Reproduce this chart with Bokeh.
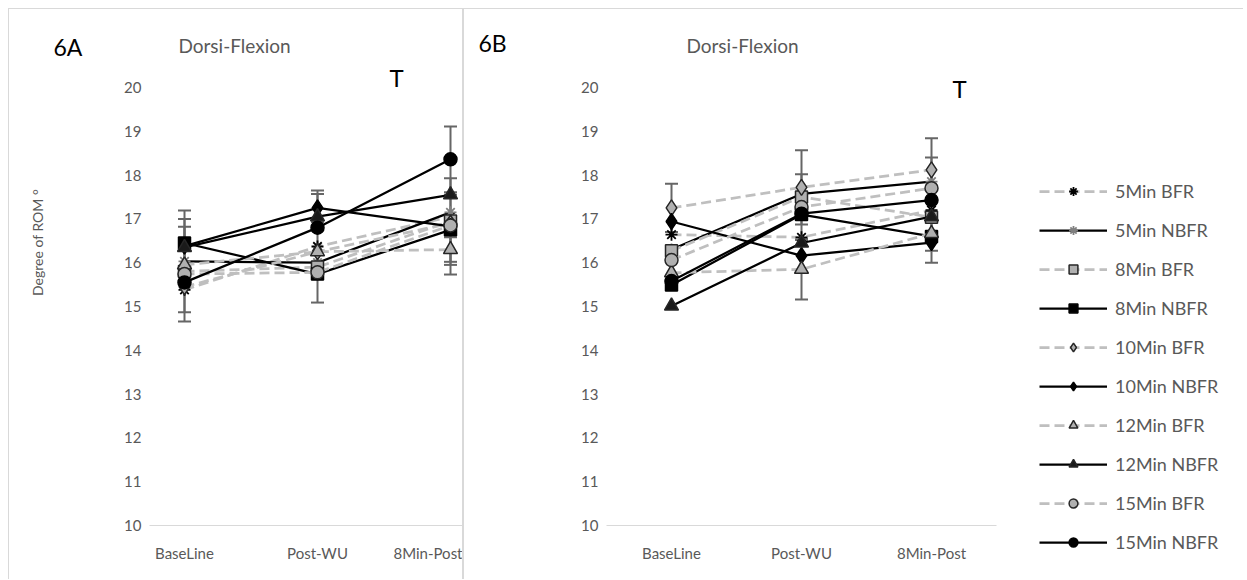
import math
from bokeh.plotting import figure
from bokeh.layouts import row, column
from bokeh.models import (Range1d, FixedTicker, Label, Legend, LegendItem,
                          Whisker, ColumnDataSource, TeeHead, Spacer)
from bokeh.embed import file_html
from bokeh.resources import INLINE

# ---------------- data ----------------
categories = ["BaseLine", "Post-WU", "8Min-Post"]
series_names = ["5Min BFR", "5Min NBFR", "8Min BFR", "8Min NBFR", "10Min BFR",
                "10Min NBFR", "12Min BFR", "12Min NBFR", "15Min BFR", "15Min NBFR"]
y_ticks = [10, 11, 12, 13, 14, 15, 16, 17, 18, 19, 20]

# Panel 6A (left)
a_5_bfr = [15.38, 16.37, 17.05]
a_5_nbfr = [16.03, 16.00, 17.15]
a_8_bfr = [15.80, 15.90, 16.95]
a_8_nbfr = [16.45, 15.74, 16.75]
a_10_bfr = [15.45, 16.25, 16.90]
a_10_nbfr = [16.38, 17.25, 16.83]
a_12_bfr = [15.95, 16.25, 16.30]
a_12_nbfr = [16.35, 17.05, 17.55]
a_15_bfr = [15.74, 15.78, 16.85]
a_15_nbfr = [15.55, 16.80, 18.36]

# Panel 6A error bars (0 = none shown)
a_err_5_bfr = [0, 1.28, 0]
a_err_5_nbfr = [1.16, 0, 0]
a_err_8_nbfr = [0, 0, 0.80]
a_err_10_nbfr = [0.62, 0.32, 1.10]
a_err_12_bfr = [0, 0, 0.28]
a_err_15_bfr = [1.08, 0, 0]
a_err_15_nbfr = [0, 0, 0.75]

# Panel 6B (right)
b_5_bfr = [16.64, 16.58, 17.20]
b_5_nbfr = [16.30, 17.57, 17.85]
b_8_bfr = [16.27, 17.50, 17.04]
b_8_nbfr = [15.49, 17.10, 16.60]
b_10_bfr = [17.25, 17.72, 18.12]
b_10_nbfr = [16.94, 16.16, 16.46]
b_12_bfr = [15.77, 15.85, 16.67]
b_12_nbfr = [15.01, 16.45, 17.05]
b_15_bfr = [16.06, 17.27, 17.70]
b_15_nbfr = [15.58, 17.12, 17.43]

# Panel 6B error bars
b_err_5_bfr = [0, 0, 1.20]
b_err_8_nbfr = [0, 0, 0.33]
b_err_10_bfr = [0.55, 0.85, 0.72]
b_err_12_bfr = [0, 0.69, 0]
b_err_15_bfr = [0, 0.75, 0]

panel_a = dict(zip(series_names, [a_5_bfr, a_5_nbfr, a_8_bfr, a_8_nbfr, a_10_bfr,
                                  a_10_nbfr, a_12_bfr, a_12_nbfr, a_15_bfr, a_15_nbfr]))
panel_b = dict(zip(series_names, [b_5_bfr, b_5_nbfr, b_8_bfr, b_8_nbfr, b_10_bfr,
                                  b_10_nbfr, b_12_bfr, b_12_nbfr, b_15_bfr, b_15_nbfr]))
err_a = {"5Min BFR": a_err_5_bfr, "5Min NBFR": a_err_5_nbfr, "8Min NBFR": a_err_8_nbfr,
         "10Min NBFR": a_err_10_nbfr, "12Min BFR": a_err_12_bfr,
         "15Min BFR": a_err_15_bfr, "15Min NBFR": a_err_15_nbfr}
err_b = {"5Min BFR": b_err_5_bfr, "8Min NBFR": b_err_8_nbfr, "10Min BFR": b_err_10_bfr,
         "12Min BFR": b_err_12_bfr, "15Min BFR": b_err_15_bfr}

# ---------------- styles ----------------
FONT = "Lato"
GRAY_TXT = "#595959"
BORDER = "1px solid #d9d9d9"
BFR_LINE = "#bfbfbf"
MFILL = "#b0b0b0"
styles = {
    "5Min BFR":   dict(marker="asterisk", fill="black", mline="black", bfr=True, size=12),
    "5Min NBFR":  dict(marker="asterisk", fill="#808080", mline="#808080", bfr=False, size=12),
    "8Min BFR":   dict(marker="square", fill=MFILL, mline="#262626", bfr=True, size=12),
    "8Min NBFR":  dict(marker="square", fill="black", mline="black", bfr=False, size=12),
    "10Min BFR":  dict(marker="diamond", fill=MFILL, mline="#262626", bfr=True, size=16),
    "10Min NBFR": dict(marker="diamond", fill="black", mline="black", bfr=False, size=16),
    "12Min BFR":  dict(marker="triangle", fill=MFILL, mline="#262626", bfr=True, size=14),
    "12Min NBFR": dict(marker="triangle", fill="#1a1a1a", mline="#262626", bfr=False, size=14),
    "15Min BFR":  dict(marker="circle", fill=MFILL, mline="#262626", bfr=True, size=13),
    "15Min NBFR": dict(marker="circle", fill="black", mline="black", bfr=False, size=13),
}

# geometry in page pixels (page origin top-left; 8px spacers give the outer margin)
Y_PX_UNIT = 43.8
Y_BOTTOM_PX = 525          # value 10
CANVAS_TOP = 9
H = 571                     # canvas height; host adds a 1px top border
FRAME_H = Y_BOTTOM_PX - CANVAS_TOP


def yv(py):
    return 10 + (Y_BOTTOM_PX - py) / Y_PX_UNIT


def blank_panel(canvas_left, width, border_style):
    t = figure(width=width, height=H, output_backend="svg", toolbar_location=None,
               x_range=Range1d(canvas_left, canvas_left + width),
               y_range=Range1d(CANVAS_TOP + H, CANVAS_TOP),
               x_axis_type=None, y_axis_type=None,
               min_border=0, min_border_left=0, min_border_right=0,
               min_border_top=0, min_border_bottom=0, frame_align=False)
    t.outline_line_color = None
    t.xgrid.visible = False
    t.ygrid.visible = False
    t.styles = border_style
    return t


def draw_series(p, src, st):
    if st["bfr"]:
        ln = p.line("x", "y", source=src, line_color=BFR_LINE, line_width=2.75,
                    line_dash="10 5")
    else:
        ln = p.line("x", "y", source=src, line_color="black", line_width=2.25)
    mk = p.scatter("x", "y", source=src, marker=st["marker"], size=st["size"],
                   fill_color=st["fill"], line_color=st["mline"],
                   line_width=1.5 if st["marker"] != "asterisk" else 1.8)
    return ln, mk


def make_panel(data, errs, width, canvas_left, frame_left, frame_right,
               x0_px, band_px, border_style):
    def xv(px):
        return (px - x0_px) / band_px

    p = figure(width=width, height=H, output_backend="svg", toolbar_location=None,
               x_range=Range1d(xv(frame_left), xv(frame_right)),
               y_range=Range1d(10, 10 + FRAME_H / Y_PX_UNIT),
               min_border_left=int(round(frame_left - canvas_left)),
               min_border_right=int(round(canvas_left + width - frame_right)),
               min_border_top=0, min_border_bottom=H - FRAME_H, frame_align=False)
    p.styles = border_style
    p.outline_line_color = None
    p.xgrid.visible = False
    p.ygrid.visible = False

    xs = list(range(len(categories)))

    p.yaxis.ticker = FixedTicker(ticks=y_ticks)
    p.yaxis.axis_line_color = None
    p.yaxis.major_tick_line_color = None
    p.yaxis.major_tick_out = 0
    p.yaxis.major_tick_in = 0
    p.yaxis.minor_tick_line_color = None
    p.yaxis.major_label_text_color = GRAY_TXT
    p.yaxis.major_label_text_font = FONT
    p.yaxis.major_label_text_font_size = "15px"
    p.yaxis.major_label_standoff = 8

    p.xaxis.ticker = FixedTicker(ticks=xs)
    p.xaxis.major_label_overrides = {i: c for i, c in enumerate(categories)}
    p.xaxis.axis_line_color = "#d9d9d9"
    p.xaxis.axis_line_width = 1
    p.xaxis.major_tick_line_color = None
    p.xaxis.major_tick_out = 0
    p.xaxis.major_tick_in = 0
    p.xaxis.minor_tick_line_color = None
    p.xaxis.major_label_text_color = GRAY_TXT
    p.xaxis.major_label_text_font = FONT
    p.xaxis.major_label_text_font_size = "15px"
    p.xaxis.major_label_standoff = 18

    eb = dict(base=[], upper=[], lower=[])
    for name in series_names:
        if name in errs:
            for i, e in enumerate(errs[name]):
                if e > 0:
                    eb["base"].append(xs[i])
                    eb["upper"].append(data[name][i] + e)
                    eb["lower"].append(data[name][i] - e)
    w = Whisker(source=ColumnDataSource(eb), base="base", upper="upper", lower="lower",
                line_color="#666666", line_width=2,
                upper_head=TeeHead(size=13, line_color="#666666", line_width=2),
                lower_head=TeeHead(size=13, line_color="#666666", line_width=2))
    p.add_layout(w)

    for name in series_names:
        src = ColumnDataSource(dict(x=xs, y=data[name]))
        draw_series(p, src, styles[name])
    return p, xv


def add_label(p, x, y, text, size, color, align="left", angle=0.0):
    p.add_layout(Label(x=x, y=y, text=text, text_font=FONT, text_font_size=size,
                       text_color=color, text_align=align, text_baseline="middle",
                       angle=angle))


TOP_L = {"border-left": BORDER, "border-top": BORDER}
TOP_R = {"border-right": BORDER, "border-top": BORDER}
TOP = {"border-top": BORDER}

# Left panel 6A: text strip (canvas x 9..109) + chart (canvas x 109..464)
ta = blank_panel(9, 100, TOP_L)
pa, xa = make_panel(panel_a, err_a, 355, 109, 150, 464, 185, 133, TOP_R)
# Right panel 6B: text strip (466..566) + chart (566..1010) + legend strip (1010..1246)
tb = blank_panel(466, 100, TOP_L)
pb, xb = make_panel(panel_b, err_b, 444, 566, 609, 999, 674, 130, TOP)
lg = blank_panel(1010, 236, TOP)

# legend: same series styles; the legend strip's sources hold a single empty (NaN) row
NAN = float("nan")
items = []
for name in series_names:
    ln, mk = draw_series(lg, ColumnDataSource(dict(x=[NAN], y=[NAN])), styles[name])
    items.append(LegendItem(label=name, renderers=[ln, mk]))
leg = Legend(items=items, location=(32, 27),
             orientation="vertical", glyph_width=68, glyph_height=22,
             label_height=22, spacing=17, padding=0, margin=0,
             border_line_color=None, background_fill_alpha=0,
             label_text_font=FONT, label_text_font_size="18px",
             label_text_color=GRAY_TXT, label_standoff=8)
lg.add_layout(leg)

add_label(ta, 53, 46, "6A", "23px", "black")
add_label(ta, 37, 242, "Degree of ROM °", "14px", GRAY_TXT, "center", math.pi / 2)
add_label(pa, xa(235), yv(45), "Dorsi-Flexion", "19px", GRAY_TXT, "center")
add_label(pa, xa(397), yv(77), "T", "24px", "black", "center")

add_label(tb, 480, 42, "6B", "23px", "black")
add_label(pb, xb(745), yv(45), "Dorsi-Flexion", "19px", GRAY_TXT, "center")
add_label(pb, xb(962), yv(88), "T", "24px", "black", "center")

layout = column(Spacer(height=8),
                row(Spacer(width=8), ta, pa, tb, pb, lg))
open("out.html", "w").write(file_html(layout, INLINE))
